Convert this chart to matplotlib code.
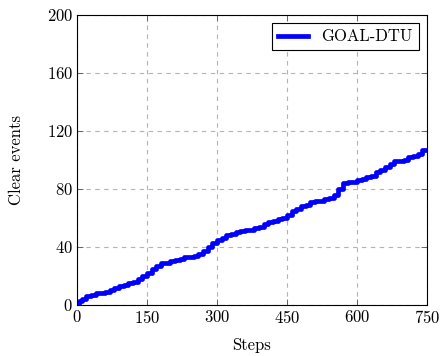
import matplotlib
matplotlib.use("Agg")
import matplotlib.pyplot as plt

steps = [0, 5, 10, 20, 30, 40, 50, 60, 70, 80, 90, 100, 110, 120, 130, 140, 150,
         160, 170, 180, 190, 200, 210, 220, 230, 240, 250, 260, 270, 280, 290, 300,
         310, 320, 330, 340, 350, 360, 370, 380, 390, 400, 410, 420, 430, 440, 450,
         460, 470, 480, 490, 500, 510, 520, 530, 540, 550, 560, 570, 580, 590, 600,
         610, 620, 630, 640, 650, 660, 670, 680, 690, 700, 710, 720, 730, 740, 750]
clear_events = [1, 3, 4, 6, 7, 8, 8, 9, 10, 12, 13, 14, 15, 16, 18, 20, 22,
                25, 27, 29, 29, 30, 31, 32, 33, 33, 34, 35, 37, 40, 43, 45,
                46, 48, 49, 50, 51, 52, 52, 53, 54, 56, 57, 58, 59, 60, 62,
                65, 66, 68, 69, 71, 72, 72, 73, 74, 76, 80, 84, 85, 85, 86,
                87, 88, 89, 92, 93, 95, 97, 99, 99, 100, 102, 103, 104, 107, 107]
xticks = [0, 150, 300, 450, 600, 750]
yticks = [0, 40, 80, 120, 160, 200]

plt.rcParams['font.family'] = ['cmr10', 'DejaVu Serif']
plt.rcParams['axes.formatter.use_mathtext'] = True
plt.rcParams['font.size'] = 12

fig = plt.figure(figsize=(4.4, 3.56), dpi=100)
ax = fig.add_axes([0.175, 0.1433, 0.7955, 0.8146])
ax.step(steps, clear_events, where='post', color=(0, 0, 1), lw=3.4, label='GOAL-DTU')
ax.set_xlim(0, 750)
ax.set_ylim(0, 200)
ax.set_xticks(xticks)
ax.set_yticks(yticks)
ax.grid(True, color='#b3b3b3', linestyle=(0, (4, 4)), lw=0.8)
ax.tick_params(direction='in', top=True, right=True, length=4, width=0.6,
               colors='#555555', labelcolor='black', pad=3)
for s in ax.spines.values():
    s.set_linewidth(0.8)
ax.set_xlabel('Steps', labelpad=8)
ax.set_ylabel('Clear events', labelpad=16)
leg = ax.legend(loc='upper right', fancybox=False, edgecolor='black', framealpha=1,
                borderaxespad=0.5, handlelength=1.8, borderpad=0.35)
leg.get_frame().set_linewidth(0.8)
fig.savefig('out.png', dpi=100)
